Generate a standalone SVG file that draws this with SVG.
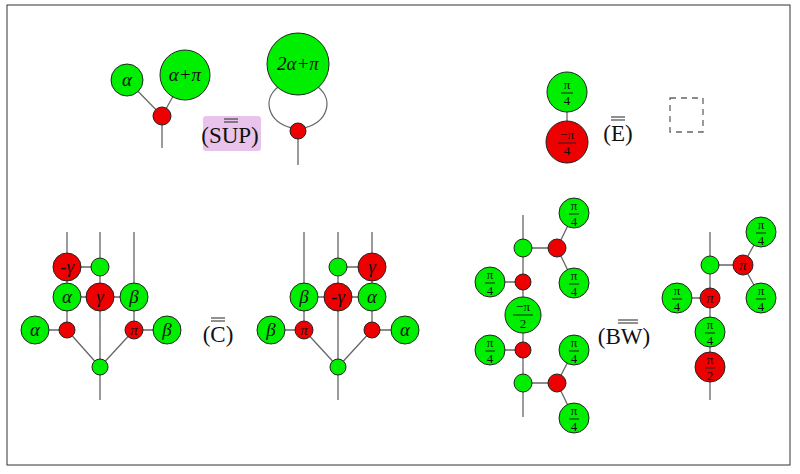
<svg xmlns="http://www.w3.org/2000/svg" width="800" height="474" viewBox="0 0 800 474">
<style>
.g{fill:#00ee00;stroke:#222;stroke-width:1}
.r{fill:#ee0000;stroke:#222;stroke-width:1}
.w{stroke:#666;stroke-width:1.3;fill:none}
text{font-family:"Liberation Serif","DejaVu Serif",serif;text-anchor:middle;fill:#111}
.m{font-size:19px;font-style:italic}
.f{font-size:13px}
.lb{font-size:23px}
.bar{stroke:#222;stroke-width:1}
</style>
<rect x="7" y="5" width="783" height="460" fill="#fff" stroke="#333" stroke-width="1"/>
<g id="connectors">
<path class="w" d="M127 80L162 116L185 75M162 116V148"/>
<path class="w" d="M298 131V165M278 87C262 100 268 122 292 128M318 87C334 100 328 122 304 128"/>
<path class="w" d="M567 92V142"/>
<path class="w" d="M67 232V330M100 232V367M134 232V330M35 330H67M134 330H167M67 267H100M67 297H134M67 330L100 367L134 330M100 367V400"/>
<path class="w" d="M304 232V330M338 232V367M372 232V330M271 330H304M372 330H405M338 267H372M304 297H372M304 330L338 367L372 330M338 367V400"/>
<path class="w" d="M523 215V417M523 248H557M574 213L557 248L574 283M490 282H523M490 350H523M523 383H557M574 350L557 383L574 418"/>
<path class="w" d="M710 232V400M710 265H743M761 232L743 265L761 298M677 298H710"/>
</g>
<g id="sup-left">
<circle class="g" cx="127" cy="80" r="16"/><text class="m" x="127" y="86">α</text>
<circle class="g" cx="185" cy="75" r="25"/><text class="m" x="185" y="81">α+π</text>
<circle class="r" cx="162" cy="116" r="9"/>
</g>
<g id="sup-label">
<rect x="203" y="116" width="58" height="35" rx="3" fill="#e8c4ec"/>
<text class="lb" x="230" y="143">(SUP)</text>
<line class="bar" x1="224" y1="119" x2="238" y2="119"/><line class="bar" x1="224" y1="122" x2="238" y2="122"/>
</g>
<g id="sup-right">
<circle class="g" cx="298" cy="64" r="31"/><text class="m" x="298" y="70">2α+π</text>
<circle class="r" cx="298" cy="131" r="8"/>
</g>
<g id="e-rule">
<circle class="g" cx="567" cy="92" r="20"/><text class="f" x="567" y="89">π</text><line class="bar" x1="561" y1="93" x2="573" y2="93"/><text class="f" x="567" y="105">4</text>
<circle class="r" cx="567" cy="142" r="21"/><text class="f" x="567" y="139">−π</text><line class="bar" x1="558" y1="143" x2="576" y2="143"/><text class="f" x="567" y="155">4</text>
<text class="lb" x="618" y="141">(E)</text>
<line class="bar" x1="611" y1="117" x2="625" y2="117"/><line class="bar" x1="611" y1="120" x2="625" y2="120"/>
<rect x="670" y="98" width="33" height="34" fill="none" stroke="#666" stroke-width="1.3" stroke-dasharray="6 5"/>
</g>
<g id="c-left">
<circle class="r" cx="67" cy="267" r="14"/><text class="m" x="67" y="273">-γ</text>
<circle class="g" cx="100" cy="267" r="9"/>
<circle class="g" cx="67" cy="297" r="14"/><text class="m" x="67" y="303">α</text>
<circle class="r" cx="100" cy="297" r="14"/><text class="m" x="100" y="303">γ</text>
<circle class="g" cx="134" cy="297" r="14"/><text class="m" x="134" y="303">β</text>
<circle class="g" cx="35" cy="330" r="14"/><text class="m" x="35" y="336">α</text>
<circle class="r" cx="67" cy="330" r="8"/>
<circle class="r" cx="134" cy="330" r="9"/><text class="m" x="134" y="335" style="font-size:15px">π</text>
<circle class="g" cx="167" cy="330" r="14"/><text class="m" x="167" y="336">β</text>
<circle class="g" cx="100" cy="367" r="8"/>
</g>
<g id="c-label">
<text class="lb" x="218" y="342">(C)</text>
<line class="bar" x1="211" y1="318" x2="225" y2="318"/><line class="bar" x1="211" y1="321" x2="225" y2="321"/>
</g>
<g id="c-right">
<circle class="g" cx="338" cy="267" r="9"/>
<circle class="r" cx="372" cy="267" r="14"/><text class="m" x="372" y="273">γ</text>
<circle class="g" cx="304" cy="297" r="14"/><text class="m" x="304" y="303">β</text>
<circle class="r" cx="338" cy="297" r="14"/><text class="m" x="338" y="303">-γ</text>
<circle class="g" cx="372" cy="297" r="14"/><text class="m" x="372" y="303">α</text>
<circle class="g" cx="271" cy="330" r="14"/><text class="m" x="271" y="336">β</text>
<circle class="r" cx="304" cy="330" r="9"/><text class="m" x="304" y="335" style="font-size:15px">π</text>
<circle class="r" cx="372" cy="330" r="8"/>
<circle class="g" cx="405" cy="330" r="14"/><text class="m" x="405" y="336">α</text>
<circle class="g" cx="338" cy="367" r="8"/>
</g>
<g id="bw-left">
<circle class="g" cx="523" cy="248" r="9"/>
<circle class="r" cx="557" cy="248" r="9"/>
<circle class="r" cx="523" cy="282" r="8"/>
<circle class="r" cx="523" cy="350" r="8"/>
<circle class="g" cx="523" cy="383" r="9"/>
<circle class="r" cx="557" cy="383" r="9"/>
<circle class="g" cx="523" cy="315" r="18"/><text class="f" x="523" y="311">−π</text><line class="bar" x1="513" y1="315" x2="533" y2="315"/><text class="f" x="523" y="328">2</text>
<circle class="g" cx="574" cy="213" r="15"/><text class="f" x="574" y="210">π</text><line class="bar" x1="569" y1="214" x2="579" y2="214"/><text class="f" x="574" y="226">4</text>
<circle class="g" cx="574" cy="283" r="15"/><text class="f" x="574" y="280">π</text><line class="bar" x1="569" y1="284" x2="579" y2="284"/><text class="f" x="574" y="296">4</text>
<circle class="g" cx="490" cy="282" r="15"/><text class="f" x="490" y="279">π</text><line class="bar" x1="485" y1="283" x2="495" y2="283"/><text class="f" x="490" y="295">4</text>
<circle class="g" cx="490" cy="350" r="15"/><text class="f" x="490" y="347">π</text><line class="bar" x1="485" y1="351" x2="495" y2="351"/><text class="f" x="490" y="363">4</text>
<circle class="g" cx="574" cy="350" r="15"/><text class="f" x="574" y="347">π</text><line class="bar" x1="569" y1="351" x2="579" y2="351"/><text class="f" x="574" y="363">4</text>
<circle class="g" cx="574" cy="418" r="15"/><text class="f" x="574" y="415">π</text><line class="bar" x1="569" y1="419" x2="579" y2="419"/><text class="f" x="574" y="431">4</text>
</g>
<g id="bw-label">
<text class="lb" x="624" y="344">(BW)</text>
<line class="bar" x1="618" y1="320" x2="638" y2="320"/><line class="bar" x1="618" y1="323" x2="638" y2="323"/>
</g>
<g id="bw-right">
<circle class="g" cx="710" cy="265" r="9"/>
<circle class="r" cx="743" cy="265" r="10"/><text class="m" x="743" y="270" style="font-size:15px">π</text>
<circle class="r" cx="710" cy="298" r="10"/><text class="m" x="710" y="303" style="font-size:15px">π</text>
<circle class="g" cx="761" cy="232" r="15"/><text class="f" x="761" y="229">π</text><line class="bar" x1="756" y1="233" x2="766" y2="233"/><text class="f" x="761" y="245">4</text>
<circle class="g" cx="761" cy="298" r="15"/><text class="f" x="761" y="295">π</text><line class="bar" x1="756" y1="299" x2="766" y2="299"/><text class="f" x="761" y="311">4</text>
<circle class="g" cx="677" cy="298" r="15"/><text class="f" x="677" y="295">π</text><line class="bar" x1="672" y1="299" x2="682" y2="299"/><text class="f" x="677" y="311">4</text>
<circle class="g" cx="710" cy="332" r="15"/><text class="f" x="710" y="329">π</text><line class="bar" x1="705" y1="333" x2="715" y2="333"/><text class="f" x="710" y="345">4</text>
<circle class="r" cx="710" cy="367" r="15"/><text class="f" x="710" y="364">π</text><line class="bar" x1="705" y1="368" x2="715" y2="368"/><text class="f" x="710" y="380">2</text>
</g>
</svg>
